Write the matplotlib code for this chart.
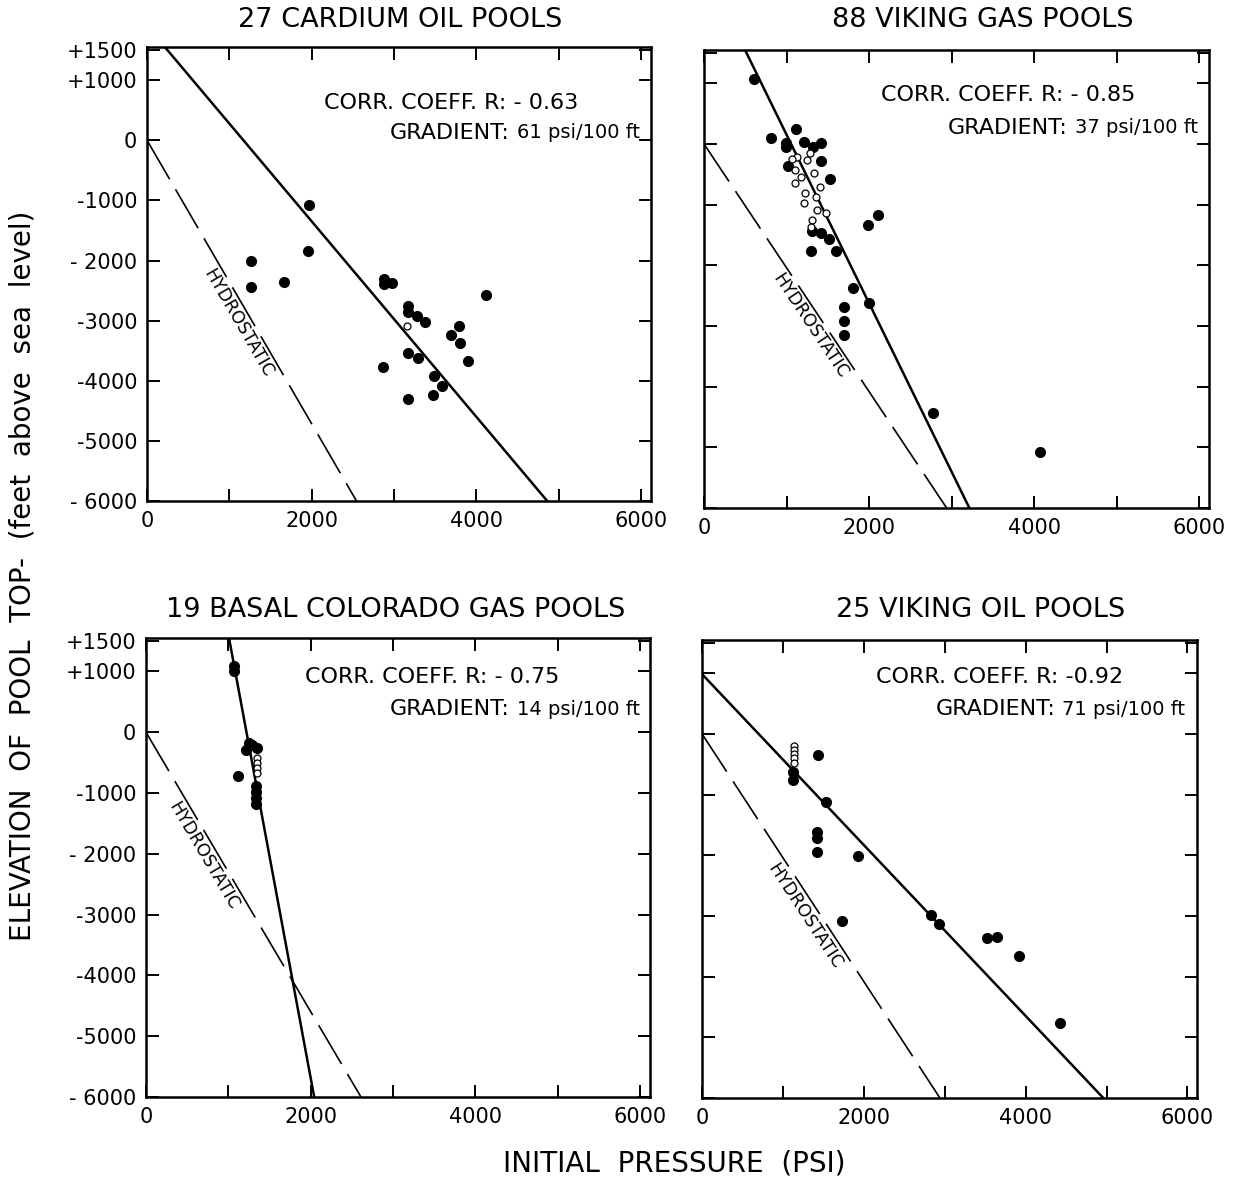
import numpy as np
import matplotlib.pyplot as plt

plt.rcParams['font.family'] = ['DejaVu Sans']

# --- data (initial pressure psi, elevation ft) ---
cardium_p = [1967, 1955, 1261, 1261, 1661, 2876, 2876, 2973, 4113, 3167, 3167,
             3281, 3378, 3785, 3685, 3802, 3172, 3285, 3903, 2864, 3479, 3584,
             3164, 3475]
cardium_elev = [-1078, -1845, -2000, -2438, -2355, -2300, -2388, -2372, -2572,
                -2762, -2855, -2928, -3022, -3083, -3233, -3378, -3533, -3622,
                -3667, -3772, -3917, -4095, -4300, -4233]
cardium_open_p = [3160]
cardium_open_elev = [-3095]

vgas_p = [610, 813, 1117, 999, 999, 1217, 1323, 1420, 1015, 1420, 1524, 2112,
          1990, 1311, 1420, 1517, 1302, 1597, 1803, 1994, 1699, 1699, 1699,
          2779, 4073]
vgas_elev = [1071, 94, 247, 21, -54, 38, -54, 12, -362, -275, -577, -1175,
             -1329, -1428, -1471, -1565, -1768, -1768, -2372, -2614, -2680,
             -2911, -3152, -4427, -5069]
vgas_open_p = [1129, 1108, 1108, 1250, 1330, 1229, 1209, 1351, 1371, 1472,
               1311, 1302, 1411, 1169, 1060, 1280]
vgas_open_elev = [-209, -428, -647, -264, -483, -812, -977, -868, -1087, -1142,
                  -1252, -1362, -703, -539, -250, -150]

colo_p = [1067, 1067, 1252, 1212, 1342, 1115, 1330, 1330, 1330, 1330, 1281]
colo_elev = [1086, 1003, -182, -293, -264, -722, -887, -980, -1079, -1174, -210]
colo_open_p = [1342, 1342, 1342, 1342]
colo_open_elev = [-430, -512, -595, -678]

voil_p = [1119, 1119, 1438, 1527, 1425, 1425, 1425, 1928, 1728, 2835, 2924,
          3525, 3640, 3917, 4424]
voil_elev = [-625, -764, -349, -1123, -1621, -1716, -1940, -2010, -3078, -2983,
             -3133, -3360, -3344, -3654, -4772]
voil_open_p = [1135, 1135, 1135, 1135, 1135]
voil_open_elev = [-193, -266, -337, -404, -476]

titles = ['27 CARDIUM OIL POOLS', '88 VIKING GAS POOLS',
          '19 BASAL COLORADO GAS POOLS', '25 VIKING OIL POOLS']
corr_r = ['- 0.63', '- 0.85', '- 0.75', '-0.92']
gradients = [61, 37, 14, 71]               # psi/100 ft labels
fit_p0 = [1170, 1055, 1220, 700]           # fitted pressure at sea level (psi)
fit_grad = [0.615, 0.36, 0.137, 0.71]      # fitted line slope (psi/ft)
hydro_grad = [0.424, 0.49, 0.435, 0.49]    # hydrostatic line as drawn (psi/ft)
hydro_label_elev = [-2934, -2885, -1917, -2879]

y_ticks = [1500, 1000, 0, -1000, -2000, -3000, -4000, -5000, -6000]
y_tick_labels = ['+1500', '+1000', '0', '-1000', '- 2000', '-3000', '-4000',
                 '-5000', '- 6000']
x_ticks = [0, 1000, 2000, 3000, 4000, 5000, 6000]
x_tick_labels = ['0', '', '2000', '', '4000', '', '6000']

points = [(cardium_p, cardium_elev, cardium_open_p, cardium_open_elev),
          (vgas_p, vgas_elev, vgas_open_p, vgas_open_elev),
          (colo_p, colo_elev, colo_open_p, colo_open_elev),
          (voil_p, voil_elev, voil_open_p, voil_open_elev)]

# axes placement (figure fractions) and text placement
positions = [(0.1179, 0.5761, 0.4042, 0.3841), (0.5646, 0.5702, 0.4050, 0.3875),
             (0.1171, 0.0719, 0.4042, 0.3883), (0.5630, 0.0711, 0.3970, 0.3875)]
title_xy = [(0.321, 0.983), (0.788, 0.983), (0.317, 0.484), (0.786, 0.484)]
corr_xy = [(0.855, 0.877), (0.855, 0.902), (0.821, 0.915), (0.851, 0.919)]
grad_xy = [(0.978, 0.811), (0.978, 0.830), (0.980, 0.845), (0.976, 0.849)]

fig = plt.figure(figsize=(12.47, 11.82), dpi=100)

for i in range(4):
    ax = fig.add_axes(positions[i])
    ax.set_xlim(0, 6120)
    ax.set_ylim(-6000, 1550)

    p, e, po, eo = points[i]
    ax.plot(p, e, 'o', color='black', ms=7, zorder=4)
    ax.plot(po, eo, 'o', mfc='white', mec='black', ms=5, mew=0.9, zorder=4)

    # fitted gradient line
    e_line = np.array([-6000, 1550])
    ax.plot(fit_p0[i] - fit_grad[i] * e_line, e_line, color='black', lw=1.8)

    # hydrostatic line
    e_h = np.array([0, -6000])
    ax.plot(-hydro_grad[i] * e_h, e_h, color='black', lw=1.2, dashes=(27, 7))

    # label along the hydrostatic line
    ye = hydro_label_elev[i]
    d0 = ax.transData.transform((-hydro_grad[i] * ye, ye))
    d1 = ax.transData.transform((-hydro_grad[i] * (ye - 1000), ye - 1000))
    dx, dy = d1 - d0
    n = np.hypot(dx, dy)
    angle = np.degrees(np.arctan2(dy, dx))
    off = 9.5
    ax.annotate('HYDROSTATIC', xy=(-hydro_grad[i] * ye, ye),
                xytext=(-abs(dy) / n * off, -abs(dx) / n * off),
                textcoords='offset points', rotation=angle,
                rotation_mode='anchor', ha='center', va='center', fontsize=12.5)

    # statistics
    ax.text(corr_xy[i][0], corr_xy[i][1], f'CORR. COEFF. R: {corr_r[i]}',
            transform=ax.transAxes, ha='right', va='center', fontsize=16)
    val = ax.text(grad_xy[i][0], grad_xy[i][1], f'{gradients[i]} psi/100 ft',
                  transform=ax.transAxes, ha='right', va='center', fontsize=14)
    ax.annotate('GRADIENT:', xy=(0, 0.5), xycoords=val, xytext=(-5, 0),
                textcoords='offset points', ha='right', va='center',
                fontsize=16)

    fig.text(title_xy[i][0], title_xy[i][1], titles[i], ha='center',
             va='center', fontsize=19.5)

    ax.set_xticks(x_ticks)
    ax.set_xticklabels(x_tick_labels)
    ax.set_yticks(y_ticks)
    if i % 2 == 0:
        ax.set_yticklabels(y_tick_labels)
    else:
        ax.set_yticklabels([])
    ax.tick_params(direction='in', length=9, width=1.4, top=True, right=True,
                   labelsize=15, pad=7)
    for s in ax.spines.values():
        s.set_linewidth(1.8)

fig.text(0.018, 0.513, 'ELEVATION  OF  POOL  TOP-  (feet  above  sea  level)',
         rotation=90, ha='center', va='center', fontsize=20)
fig.text(0.541, 0.016, 'INITIAL  PRESSURE  (PSI)', ha='center', va='center',
         fontsize=20)

fig.savefig('out.png', dpi=100, facecolor='white')
